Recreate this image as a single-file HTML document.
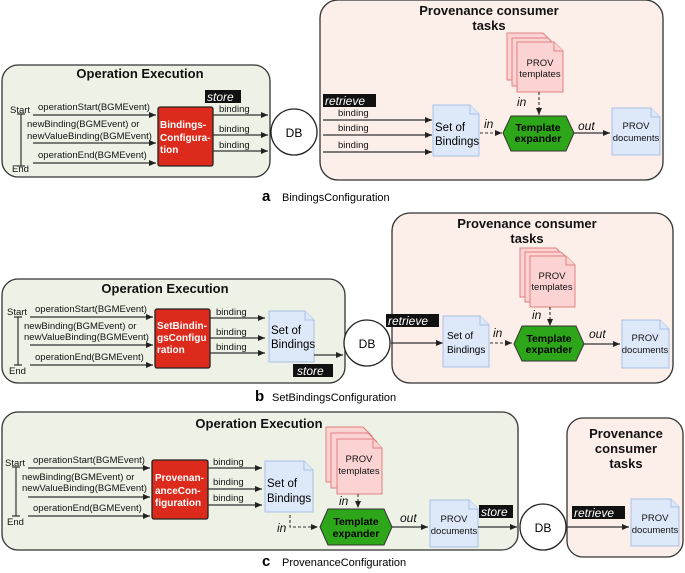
<!DOCTYPE html>
<html><head><meta charset="utf-8"><style>
html,body{margin:0;padding:0;background:#fff}
svg{display:block;font-family:"Liberation Sans","DejaVu Sans",sans-serif}
.s{font-size:9.5px;fill:#111}
.t{font-size:13px;font-weight:bold;fill:#111}
.w{font-size:10px;font-weight:bold;fill:#fff}
.i{font-size:12px;font-style:italic;fill:#111}
.iw{font-size:12px;font-style:italic;fill:#fff}
.g{fill:#eef2e6;stroke:#333;stroke-width:1.3}
.p{fill:#fcefe9;stroke:#333;stroke-width:1.3}
.d{fill:#dde8f8;stroke:#a8c0e6;stroke-width:1}
.pk{fill:#fcd3d3;stroke:#e08080;stroke-width:1}
.r{fill:#dc2b1c;stroke:#222;stroke-width:1.3}
.h{fill:#2ea61a;stroke:#333;stroke-width:1}
.a{stroke:#333;stroke-width:1.2;fill:none;marker-end:url(#m)}
.da{stroke:#333;stroke-width:1.1;fill:none;stroke-dasharray:3,2;marker-end:url(#m)}
.l{stroke:#333;stroke-width:1.2;fill:none}
.hb{font-size:10.5px;font-weight:bold}
</style></head><body>
<svg width="685" height="573" viewBox="0 0 685 573">
<defs><marker id="m" markerWidth="8" markerHeight="8" refX="7" refY="4" orient="auto" markerUnits="userSpaceOnUse"><path d="M0,1 L7,4 L0,7 Z" fill="#222"/></marker></defs>

<!-- ===== Panel a ===== -->
<rect class="g" x="2" y="65" width="268" height="112" rx="16"/>
<text class="t" x="140" y="78" text-anchor="middle">Operation Execution</text>
<text class="s" x="10" y="113">Start</text><text class="s" x="12" y="172">End</text>
<path class="l" d="M21,114 V166 M17,114 H25 M17,166 H25"/>
<text class="s" x="38" y="110">operationStart(BGMEvent)</text>
<path class="a" d="M33,115 H156"/>
<text class="s" x="27" y="127">newBinding(BGMEvent) or</text>
<text class="s" x="27" y="139">newValueBinding(BGMEvent)</text>
<path class="a" d="M33,143 H156"/>
<text class="s" x="38" y="158">operationEnd(BGMEvent)</text>
<path class="a" d="M33,163 H156"/>
<rect class="r" x="158" y="107" width="55" height="59" rx="2"/>
<text class="w" x="160" y="128">Bindings-</text><text class="w" x="160" y="141">Configura-</text><text class="w" x="160" y="153">tion</text>
<rect x="205" y="90" width="36" height="13" fill="#111"/><text class="iw" x="207" y="101">store</text>
<text class="s" x="219" y="112">binding</text><path class="a" d="M213,115 H268"/>
<text class="s" x="219" y="132">binding</text><path class="a" d="M213,135 H268"/>
<text class="s" x="219" y="148">binding</text><path class="a" d="M213,151 H268"/>
<circle cx="294" cy="132" r="23" fill="#fff" stroke="#222" stroke-width="1.3"/>
<text x="294" y="137" text-anchor="middle" style="font-size:12px">DB</text>
<rect class="p" x="320" y="0" width="343" height="180" rx="18"/>
<text class="t" x="489" y="15" text-anchor="middle">Provenance consumer</text>
<text class="t" x="489" y="30" text-anchor="middle">tasks</text>
<path class="pk" d="M507,33 H543 L552,42 V80 H507 Z"/>
<path class="pk" d="M512,38 H548 L557,47 V86 H512 Z"/>
<path class="pk" d="M517,42 H554 L563,51 V92 H517 Z"/><path class="pk" d="M554,42 V51 H563" fill="none"/>
<text class="s" x="540" y="66" text-anchor="middle">PROV</text><text class="s" x="540" y="77" text-anchor="middle">templates</text>
<text class="i" x="517" y="106">in</text><path class="da" d="M539,92 V115"/>
<rect x="323" y="94" width="53" height="13" fill="#111"/><text class="iw" x="325" y="105">retrieve</text>
<text class="s" x="338" y="116">binding</text><path class="a" d="M323,120 H432"/>
<text class="s" x="338" y="131">binding</text><path class="a" d="M323,135 H432"/>
<text class="s" x="338" y="148">binding</text><path class="a" d="M323,152 H432"/>
<path class="d" d="M433,105 H470 L479,114 V156 H433 Z"/><path class="d" d="M470,105 V114 H479" fill="none"/>
<text x="435" y="131" style="font-size:11.5px">Set of</text><text x="435" y="145" style="font-size:11.5px">Bindings</text>
<text class="i" x="484" y="128">in</text><path class="da" d="M480,133 H502"/>
<polygon class="h" points="503,133 511,116 566,116 574,133 566,151 511,151"/>
<text x="538" y="131" text-anchor="middle" class="hb">Template</text>
<text x="538" y="142" text-anchor="middle" class="hb">expander</text>
<text class="i" x="578" y="130">out</text><path class="a" d="M574,133 H610"/>
<path class="d" d="M612,108 H651 L660,117 V155 H612 Z"/><path class="d" d="M651,108 V117 H660" fill="none"/>
<text class="s" x="636" y="129" text-anchor="middle">PROV</text><text class="s" x="636" y="141" text-anchor="middle">documents</text>
<text x="262" y="201" style="font-size:15px;font-weight:bold">a</text>
<text x="282" y="201" style="font-size:11px">BindingsConfiguration</text>

<!-- ===== Panel b ===== -->
<rect class="g" x="2" y="279" width="343" height="104" rx="16"/>
<text class="t" x="165" y="293" text-anchor="middle">Operation Execution</text>
<text class="s" x="7" y="315">Start</text><text class="s" x="9" y="374">End</text>
<path class="l" d="M18,317 V365 M14,317 H22 M14,365 H22"/>
<text class="s" x="35" y="312">operationStart(BGMEvent)</text>
<path class="a" d="M30,317 H153"/>
<text class="s" x="24" y="329">newBinding(BGMEvent) or</text>
<text class="s" x="24" y="340">newValueBinding(BGMEvent)</text>
<path class="a" d="M30,345 H153"/>
<text class="s" x="35" y="360">operationEnd(BGMEvent)</text>
<path class="a" d="M30,365 H153"/>
<rect class="r" x="155" y="309" width="55" height="59" rx="2"/>
<text class="w" x="157" y="329">SetBindin-</text><text class="w" x="157" y="341">gsConfigu</text><text class="w" x="157" y="353">ration</text>
<text class="s" x="216" y="315">binding</text><path class="a" d="M210,318 H265"/>
<text class="s" x="216" y="335">binding</text><path class="a" d="M210,338 H265"/>
<text class="s" x="216" y="350">binding</text><path class="a" d="M210,353 H265"/>
<path class="d" d="M269,311 H305 L314,320 V362 H269 Z"/><path class="d" d="M305,311 V320 H314" fill="none"/>
<text x="271" y="334" style="font-size:11.5px">Set of</text><text x="271" y="348" style="font-size:11.5px">Bindings</text>
<rect x="293" y="364" width="40" height="13" fill="#111"/><text class="iw" x="297" y="375">store</text>
<path class="a" d="M314,355 H343"/>
<circle cx="367" cy="343" r="23" fill="#fff" stroke="#222" stroke-width="1.3"/>
<text x="367" y="348" text-anchor="middle" style="font-size:12px">DB</text>
<rect class="p" x="392" y="213" width="281" height="170" rx="18"/>
<text class="t" x="527" y="228" text-anchor="middle">Provenance consumer</text>
<text class="t" x="527" y="243" text-anchor="middle">tasks</text>
<path class="pk" d="M520,248 H556 L565,257 V297 H520 Z"/>
<path class="pk" d="M525,252 H561 L570,261 V302 H525 Z"/>
<path class="pk" d="M530,256 H566 L575,265 V307 H530 Z"/><path class="pk" d="M566,256 V265 H575" fill="none"/>
<text class="s" x="552" y="279" text-anchor="middle">PROV</text><text class="s" x="552" y="290" text-anchor="middle">templates</text>
<text class="i" x="532" y="319">in</text><path class="da" d="M550,307 V326"/>
<rect x="386" y="314" width="53" height="13" fill="#111"/><text class="iw" x="388" y="325">retrieve</text>
<path class="a" d="M391,343 H443"/>
<path class="d" d="M443,316 H480 L489,325 V367 H443 Z"/><path class="d" d="M480,316 V325 H489" fill="none"/>
<text x="447" y="339" style="font-size:10px">Set of</text><text x="447" y="353" style="font-size:10px">Bindings</text>
<text class="i" x="493" y="337">in</text><path class="da" d="M490,343 H512"/>
<polygon class="h" points="514,344 522,326 576,326 584,344 576,361 522,361"/>
<text x="549" y="342" text-anchor="middle" class="hb">Template</text>
<text x="549" y="353" text-anchor="middle" class="hb">expander</text>
<text class="i" x="589" y="338">out</text><path class="a" d="M584,344 H620"/>
<path class="d" d="M622,320 H660 L669,329 V368 H622 Z"/><path class="d" d="M660,320 V329 H669" fill="none"/>
<text class="s" x="645" y="341" text-anchor="middle">PROV</text><text class="s" x="645" y="353" text-anchor="middle">documents</text>
<text x="255" y="401" style="font-size:15px;font-weight:bold">b</text>
<text x="272" y="401" style="font-size:11px">SetBindingsConfiguration</text>

<!-- ===== Panel c ===== -->
<rect class="g" x="2" y="412" width="516" height="138" rx="16"/>
<text class="t" x="259" y="428" text-anchor="middle">Operation Execution</text>
<text class="s" x="5" y="466">Start</text><text class="s" x="7" y="525">End</text>
<path class="l" d="M16,467 V516 M12,467 H20 M12,516 H20"/>
<text class="s" x="33" y="463">operationStart(BGMEvent)</text>
<path class="a" d="M28,468 H150"/>
<text class="s" x="22" y="480">newBinding(BGMEvent) or</text>
<text class="s" x="22" y="491">newValueBinding(BGMEvent)</text>
<path class="a" d="M28,497 H150"/>
<text class="s" x="33" y="511">operationEnd(BGMEvent)</text>
<path class="a" d="M28,516 H150"/>
<rect class="r" x="152" y="460" width="56" height="59" rx="2"/>
<text class="w" x="155" y="481">Provenan-</text><text class="w" x="155" y="494">anceCon-</text><text class="w" x="155" y="506">figuration</text>
<text class="s" x="213" y="465">binding</text><path class="a" d="M208,468 H262"/>
<text class="s" x="213" y="485">binding</text><path class="a" d="M208,489 H262"/>
<text class="s" x="213" y="501">binding</text><path class="a" d="M208,505 H262"/>
<path class="d" d="M265,461 H304 L313,470 V512 H265 Z"/><path class="d" d="M304,461 V470 H313" fill="none"/>
<text x="267" y="487" style="font-size:11.5px">Set of</text><text x="267" y="502" style="font-size:11.5px">Bindings</text>
<path class="pk" d="M326,427 H363 L372,436 V482 H326 Z"/>
<path class="pk" d="M331,433 H368 L377,442 V488 H331 Z"/>
<path class="pk" d="M337,439 H373 L382,448 V494 H337 Z"/><path class="pk" d="M373,439 V448 H382" fill="none"/>
<text class="s" x="359" y="462" text-anchor="middle">PROV</text><text class="s" x="359" y="474" text-anchor="middle">templates</text>
<text class="i" x="339" y="505">in</text><path class="da" d="M358,494 V508"/>
<text class="i" x="277" y="532">in</text><path class="da" d="M290,515 V527 H318"/>
<polygon class="h" points="320,527 328,509 384,509 392,527 384,545 328,545"/>
<text x="356" y="525" text-anchor="middle" class="hb">Template</text>
<text x="356" y="537" text-anchor="middle" class="hb">expander</text>
<text class="i" x="400" y="522">out</text><path class="a" d="M392,527 H428"/>
<path class="d" d="M430,500 H469 L478,509 V547 H430 Z"/><path class="d" d="M469,500 V509 H478" fill="none"/>
<text class="s" x="454" y="522" text-anchor="middle">PROV</text><text class="s" x="454" y="534" text-anchor="middle">documents</text>
<rect x="479" y="505" width="34" height="13" fill="#111"/><text class="iw" x="481" y="516">store</text>
<path class="a" d="M478,527 H517"/>
<circle cx="543" cy="527" r="23" fill="#fff" stroke="#222" stroke-width="1.3"/>
<text x="543" y="532" text-anchor="middle" style="font-size:12px">DB</text>
<rect class="p" x="567" y="418" width="116" height="139" rx="16"/>
<text class="t" x="626" y="438" text-anchor="middle">Provenance</text>
<text class="t" x="626" y="453" text-anchor="middle">consumer</text>
<text class="t" x="626" y="468" text-anchor="middle">tasks</text>
<rect x="572" y="506" width="53" height="13" fill="#111"/><text class="iw" x="574" y="517">retrieve</text>
<path class="a" d="M567,527 H629"/>
<path class="d" d="M631,499 H671 L679,507 V546 H631 Z"/><path class="d" d="M671,499 V507 H679" fill="none"/>
<text class="s" x="655" y="521" text-anchor="middle">PROV</text><text class="s" x="655" y="533" text-anchor="middle">documents</text>
<text x="262" y="566" style="font-size:15px;font-weight:bold">c</text>
<text x="282" y="566" style="font-size:11px">ProvenanceConfiguration</text>
</svg>
</body></html>
